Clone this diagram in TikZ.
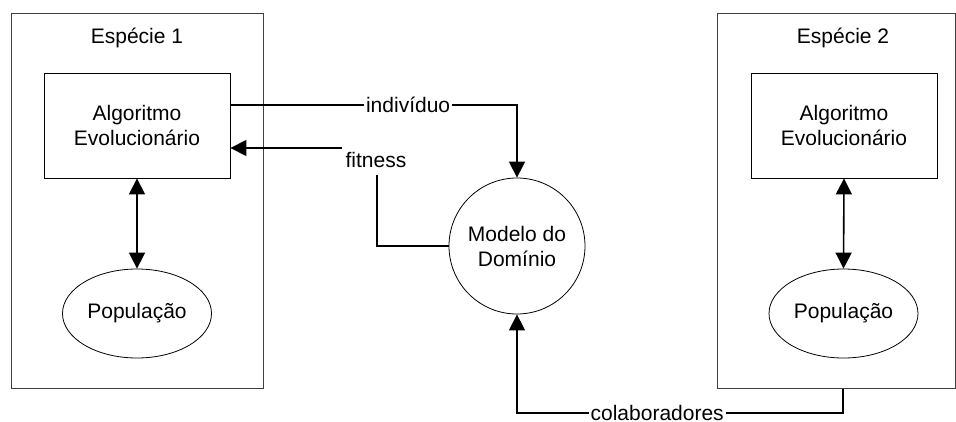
\documentclass[tikz,border=0pt]{standalone}
\usepackage{fontspec}
\setmainfont{Liberation Sans}
\usetikzlibrary{arrows.meta,shapes.geometric}
\begin{document}
\begin{tikzpicture}[x=1pt,y=-1pt,
  every node/.style={font=\fontsize{21}{25}\selectfont, inner sep=0pt, align=center},
  outer/.style={draw=black!75, line width=1pt},
  aebox/.style={draw, line width=0.9pt, minimum width=186pt, minimum height=105pt},
  popell/.style={draw, ellipse, line width=0.8pt, minimum width=149pt, minimum height=89pt},
  conn/.style={line width=1.6pt},
  tip/.style={-{Triangle[length=16pt,width=16pt]}},
  dtip/.style={{Triangle[length=16pt,width=16pt]}-{Triangle[length=16pt,width=16pt]}},
  lab/.style={fill=white, inner sep=2pt}]
\useasboundingbox (0,0) rectangle (956,421);
\fill[white] (0,0) rectangle (956,421);
% species 1
\node[outer, minimum width=252pt, minimum height=375pt] (s1) at (137,200.5) {};
\node (t1) at (137,38) {Espécie 1};
\node[aebox] (ae1) at (137,125.5) {Algoritmo\\Evolucionário};
\node[popell] (p1) at (137,313.5) {População};
% species 2
\node[outer, minimum width=238pt, minimum height=375pt] (s2) at (836,200.5) {};
\node (t2) at (843,38) {Espécie 2};
\node[aebox] (ae2) at (844,125.5) {Algoritmo\\Evolucionário};
\node[popell] (p2) at (843.5,313.5) {População};
% domain model
\node[draw, circle, line width=0.8pt, minimum size=136pt] (m) at (517,246) {Modelo do\\Domínio};
% connectors
\draw[conn, dtip] (ae1.south) -- (p1.north);
\draw[conn, dtip] (ae2.south) -- (p2.north);
\draw[conn, tip] ([yshift=20.5pt]ae1.east) -- node[lab, pos=0.62] (li) {indivíduo} ([yshift=20.5pt]ae1.east -| m.north) -- (m.north);
\coordinate (fc) at (377,148);
\draw[conn, tip] (m.west) -| (fc) -- ([yshift=-22.5pt]ae1.east);
\node[lab, minimum width=68pt, minimum height=30pt] (lf) at (376,160) {fitness};
\coordinate (cc) at (517,413);
\draw[conn, tip] ([xshift=7pt]s2.south) |- node[lab, pos=0.785] (lc) {colaboradores} (cc) -- (m.south);
\end{tikzpicture}
\end{document}
